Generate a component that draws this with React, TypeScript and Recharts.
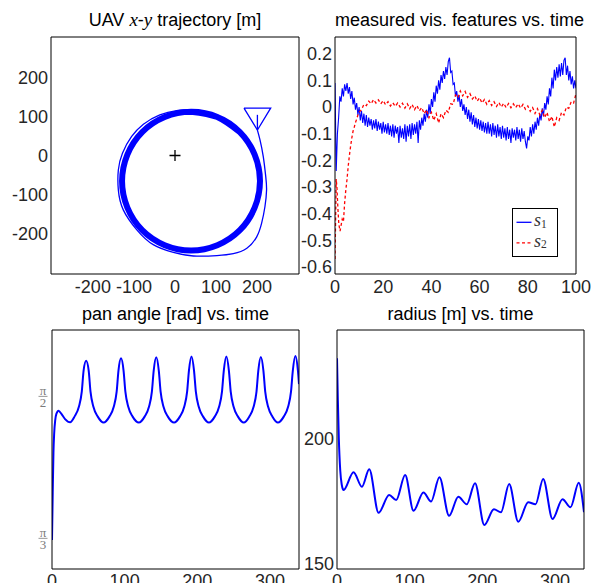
import { ComposedChart, Legend, Line, Scatter, XAxis, YAxis } from "recharts";

const BLUE = "#0000ff";
const RED = "#ff0000";
const INK = "#000000";
const LABEL = "#262626";
const SANS = "'Liberation Sans', Arial, Helvetica, sans-serif";
const SERIF = "'Liberation Serif', 'Times New Roman', serif";

// --- UAV x-y trajectory [m] ---
const XY_TICKS = [-200, -100, 0, 100, 200];
// first lap, from the UAV start point spiralling onto the orbit
const APPROACH_X = [200.7, 207, 215, 221, 223, 219, 211, 199, 175, 142, 102, 45, -4, -53, -93, -126, -138, -138, -128, -106, -77, -37, 4, 39];
const APPROACH_Y = [65, 40, -3, -54, -88, -131, -173, -208, -237, -251, -256, -257, -248, -228, -190, -139, -88, -37, 6, 48, 80, 104, 115, 117];
// the settled orbit (many laps on top of each other)
const ORBIT_X = [39, 103, 158, 194, 207, 194, 158, 103, 39, -25, -80, -116, -129, -116, -80, -25, 39, 103, 158];
const ORBIT_Y = [112, 98.5, 60, 2.5, -65.5, -133.5, -191, -229.5, -243, -229.5, -191, -133.5, -65.5, 2.5, 60, 98.5, 112, 98.5, 60];
const UAV_X = [168, 233, 200.7, 168];
const UAV_Y = [121, 121, 65, 121];
const STEM_X = [200.7, 200.7];
const STEM_Y = [104, 65];
const TARGET_X = [0];
const TARGET_Y = [0];

// --- measured visual features vs. time ---
const FEAT_X_TICKS = [0, 20, 40, 60, 80, 100];
const FEAT_Y_TICKS = [-0.6, -0.5, -0.4, -0.3, -0.2, -0.1, 0, 0.1, 0.2];
const S1_DT = 0.5; // s1 sampled every 0.5 s
const S1 = [
  0.09, -0.24, -0.1, -0.04, 0.04, 0.02, 0.07, 0.04, 0.085, 0.06, 0.09, 0.05, 0.075, 0.03, 0.06, 0.01, 0.035, -0.01, 0.015, -0.03,
  0.0, -0.05, -0.015, -0.06, -0.025, -0.07, -0.03, -0.075, -0.04, -0.07, -0.045, -0.085, -0.05, -0.08, -0.045, -0.09, -0.055, -0.085, -0.06, -0.1,
  -0.055, -0.095, -0.065, -0.1, -0.06, -0.105, -0.07, -0.11, -0.065, -0.115, -0.07, -0.1, -0.075, -0.135, -0.07, -0.115, -0.08, -0.12, -0.065, -0.13,
  -0.07, -0.11, -0.065, -0.12, -0.06, -0.105, -0.065, -0.1, -0.055, -0.135, -0.05, -0.085, -0.04, -0.07, -0.025, -0.055, -0.01, -0.04, 0.01, -0.025,
  0.03, 0.0, 0.055, 0.02, 0.08, 0.05, 0.1, 0.065, 0.12, 0.09, 0.135, 0.105, 0.15, 0.12, 0.17, 0.185, 0.13, 0.135, 0.085, 0.09,
  0.04, 0.06, 0.02, 0.045, 0.0, 0.03, -0.015, 0.01, -0.03, 0.0, -0.045, -0.01, -0.055, -0.02, -0.065, -0.03, -0.075, -0.04, -0.08, -0.045,
  -0.085, -0.05, -0.09, -0.055, -0.095, -0.06, -0.1, -0.055, -0.1, -0.065, -0.11, -0.06, -0.105, -0.07, -0.115, -0.065, -0.11, -0.075, -0.12, -0.07,
  -0.115, -0.08, -0.125, -0.075, -0.12, -0.085, -0.135, -0.08, -0.115, -0.085, -0.125, -0.075, -0.12, -0.085, -0.13, -0.08, -0.12, -0.09, -0.13, -0.155,
  -0.11, -0.125, -0.075, -0.11, -0.065, -0.1, -0.055, -0.085, -0.04, -0.07, -0.025, -0.05, -0.005, -0.035, 0.015, -0.01, 0.04, 0.01, 0.07, 0.04,
  0.11, 0.07, 0.14, 0.1, 0.15, 0.11, 0.16, 0.115, 0.165, 0.12, 0.175, 0.185, 0.12, 0.155, 0.1, 0.135, 0.085, 0.115, 0.07, 0.1,
  0.07,
];
const S2_T = [
  0, 0.3, 0.5, 0.8, 1.2, 1.6, 2.1, 2.6, 3, 3.5, 4, 4.5, 5, 5.5, 6, 6.5, 7, 7.5, 8, 8.5, 9, 9.5, 10,
  11, 12, 13, 14, 15, 16, 17, 18, 19, 20, 21, 22, 23, 24, 25, 26, 27, 28, 29, 30,
  31, 32, 33, 34, 35, 36, 37, 38, 39, 40, 41, 42, 43, 44, 45, 46, 47, 48, 49, 50,
  51, 52, 53, 54, 55, 56, 57, 58, 59, 60, 61, 62, 63, 64, 65, 66, 67, 68, 69, 70,
  71, 72, 73, 74, 75, 76, 77, 78, 79, 80, 81, 82, 83, 84, 85, 86, 87, 88, 89, 90,
  91, 92, 93, 94, 95, 96, 97, 98, 99, 100,
];
const S2 = [
  -0.57, -0.4, -0.27, -0.3, -0.38, -0.44, -0.465, -0.44, -0.42, -0.43, -0.36, -0.31, -0.27, -0.22, -0.18, -0.145, -0.115, -0.09, -0.075, -0.058, -0.045, -0.03, -0.02,
  -0.01, 0.01, 0.005, 0.022, 0.012, 0.028, 0.015, 0.027, 0.012, 0.024, 0.008, 0.02, 0.004, 0.016, 0.002, 0.015, 0.0, 0.014, -0.004, 0.012,
  -0.006, 0.01, -0.01, 0.006, -0.014, -0.002, -0.025, -0.01, -0.04, -0.02, -0.05, -0.025, -0.06, -0.025, -0.04, -0.012, -0.02, 0.012, 0.01, 0.045,
  0.035, 0.06, 0.042, 0.058, 0.036, 0.05, 0.03, 0.042, 0.022, 0.035, 0.015, 0.028, 0.01, 0.024, 0.006, 0.02, 0.002, 0.017, 0.0, 0.014,
  -0.002, 0.013, -0.003, 0.012, -0.002, 0.012, -0.004, 0.01, -0.008, 0.004, -0.016, -0.002, -0.024, -0.006, -0.03, -0.012, -0.04, -0.02, -0.055, -0.035,
  -0.075, -0.04, -0.05, -0.02, -0.03, 0.0, -0.005, 0.02, 0.015, 0.05,
];
const FEAT_SERIES = [
  { key: "s1", sub: "1", color: BLUE, dash: undefined as string | undefined },
  { key: "s2", sub: "2", color: RED, dash: "3 2.5" },
];

// --- pan angle [rad] vs. time ---
const TIME_TICKS = [0, 100, 200, 300];
const PAN_TICKS = [Math.PI / 3, Math.PI / 2];
const PAN_T = [
  0, 1, 2, 3, 4.5, 6, 9, 13, 18, 25, 31, 37, 41, 43.5, 47, 50.5, 53, 57, 63, 71,
  79, 85, 89, 91.5, 95, 98.5, 101, 105, 111, 119.5, 127.5, 133.5, 137.5, 140, 143.5, 147, 149.5, 153.5, 159.5, 168,
  176, 182, 186, 188.5, 192, 195.5, 198, 202, 208, 216, 224, 230, 234, 236.5, 240, 243.5, 246, 250, 256, 264,
  271.5, 277.5, 281.5, 284, 287.5, 291, 293.5, 297.5, 303.5, 311, 319, 325, 329, 331.5, 335, 338.5, 340,
];
const PAN = [
  1.047, 1.22, 1.37, 1.44, 1.49, 1.512, 1.524, 1.512, 1.493, 1.481, 1.502, 1.538, 1.594, 1.672, 1.708, 1.672, 1.594, 1.538, 1.502, 1.48,
  1.502, 1.538, 1.594, 1.672, 1.717, 1.672, 1.594, 1.538, 1.502, 1.48, 1.502, 1.538, 1.594, 1.672, 1.721, 1.672, 1.594, 1.538, 1.502, 1.48,
  1.502, 1.538, 1.594, 1.672, 1.724, 1.672, 1.594, 1.538, 1.502, 1.48, 1.502, 1.538, 1.594, 1.672, 1.724, 1.672, 1.594, 1.538, 1.502, 1.48,
  1.502, 1.538, 1.594, 1.672, 1.722, 1.672, 1.594, 1.538, 1.502, 1.48, 1.502, 1.538, 1.594, 1.672, 1.726, 1.672, 1.622,
];

// --- radius [m] vs. time ---
const RAD_TICKS = [150, 200];
const RAD_T = [
  0, 1.2, 2.5, 4.5, 6.5, 9, 22.8, 34.3, 44.4, 57.2, 71.8, 81.5, 93.8, 105.3, 119, 129.5, 141, 154.3, 167, 178.6,
  190, 202.8, 216, 225.7, 237, 249.5, 263.2, 273.3, 283.8, 296.7, 310.4, 321.4, 332.8, 340,
];
const RAD = [
  232, 215, 200, 187, 181.5, 179.3, 186.4, 180.6, 187.6, 170.2, 177.3, 175.3, 185.3, 171, 178.3, 174.7, 184.4, 169, 176.6, 173.6,
  182, 165.3, 171.6, 170.4, 181.7, 166.6, 174.4, 173.6, 183.7, 167.7, 175.6, 172.4, 182.2, 170.4,
];

const toPts = (xs: number[], ys: number[]) => xs.map((x, i) => ({ x, y: ys[i] }));

type FrameOpts = {
  xd: [number, number];
  xt: number[];
  yd: [number, number];
  yt: number[];
  xh: number;
  xm: number;
  yw: number;
  ym: number;
  yTick?: any;
  yFmt?: (v: number) => string;
};

// box with labelled bottom/left axes and inward ticks on all four sides
function frame(f: FrameOpts) {
  const lbl = { fill: LABEL, fontSize: 18, fontFamily: SANS };
  const inward = { tick: false, tickSize: 3, tickLine: { stroke: INK }, mirror: true, allowDataOverflow: true, interval: 0 as const };
  return [
    <XAxis key="xb" xAxisId="b" type="number" dataKey="x" domain={f.xd} ticks={f.xt} allowDataOverflow interval={0}
      height={f.xh} tickSize={0} tickMargin={f.xm} tickLine={false} axisLine={{ stroke: INK }} tick={lbl} />,
    <XAxis key="xbm" xAxisId="bm" type="number" orientation="bottom" domain={f.xd} ticks={f.xt} {...inward} axisLine={false} />,
    <XAxis key="xt" xAxisId="t" type="number" orientation="top" domain={f.xd} ticks={f.xt} {...inward} axisLine={{ stroke: INK }} />,
    <YAxis key="yl" yAxisId="l" type="number" dataKey="y" domain={f.yd} ticks={f.yt} allowDataOverflow interval={0}
      width={f.yw} tickSize={0} tickMargin={f.ym} tickLine={false} axisLine={{ stroke: INK }} tick={f.yTick ?? lbl} tickFormatter={f.yFmt} />,
    <YAxis key="ylm" yAxisId="lm" type="number" orientation="left" domain={f.yd} ticks={f.yt} {...inward} axisLine={false} />,
    <YAxis key="yr" yAxisId="r" type="number" orientation="right" domain={f.yd} ticks={f.yt} {...inward} axisLine={{ stroke: INK }} />,
  ];
}

const lineBase = { xAxisId: "b", yAxisId: "l", dataKey: "y", dot: false, activeDot: false, isAnimationActive: false };

function Plus(p: any) {
  const { cx, cy } = p;
  return <path d={`M${cx - 5.5},${cy}H${cx + 5.5}M${cx},${cy - 5.5}V${cy + 5.5}`} stroke={INK} strokeWidth={1.3} fill="none" />;
}

function PiTick(p: any) {
  const { x, y, payload } = p;
  const den = Math.round(Math.PI / payload.value);
  const cx = x - 6;
  return (
    <g fontFamily={SERIF} fontSize={13} fill="#7a7a7a">
      <text x={cx} y={y - 3.2} textAnchor="middle">π</text>
      <line x1={cx - 4.5} x2={cx + 4.5} y1={y - 1.6} y2={y - 1.6} stroke="#7a7a7a" strokeWidth={0.8} />
      <text x={cx} y={y + 8.9} textAnchor="middle">{den}</text>
    </g>
  );
}

function FeatLegend() {
  return (
    <svg width={46} height={49} style={{ display: "block" }}>
      <rect x={0.5} y={0.5} width={45} height={48} fill="#fff" stroke={INK} />
      {FEAT_SERIES.map((s, i) => (
        <g key={s.key}>
          <line x1={4.5} x2={19.5} y1={14.3 + i * 20.5} y2={14.3 + i * 20.5} stroke={s.color} strokeWidth={1.3} strokeDasharray={s.dash} />
          <text x={22} y={18 + i * 20.7} fontFamily={SERIF} fontStyle="italic" fontSize={18} fill="#333">
            s<tspan fontStyle="normal" fontSize={11.5} dy={1.6}>{s.sub}</tspan>
          </text>
        </g>
      ))}
    </svg>
  );
}

function Title({ left, width, top, children }: { left: number; width: number; top: number; children: any }) {
  return (
    <div style={{ position: "absolute", left, width, top, textAlign: "center", fontFamily: SANS, fontSize: 18, lineHeight: "18px", color: INK, whiteSpace: "nowrap" }}>
      {children}
    </div>
  );
}

const MathVar = ({ v }: { v: string }) => <span style={{ fontFamily: SERIF, fontStyle: "italic", fontSize: 19 }}>{v}</span>;

function Trajectory() {
  return (
    <ComposedChart width={305} height={269} margin={{ top: 10, right: 6, bottom: 0, left: 0 }}>
      {frame({ xd: [-302, 302], xt: XY_TICKS, yd: [-303, 303], yt: XY_TICKS, xh: 22, xm: 6, yw: 51, ym: 3 })}
      <Line {...lineBase} data={toPts(ORBIT_X, ORBIT_Y)} type="natural" stroke={BLUE} strokeWidth={6} />
      <Line {...lineBase} data={toPts(APPROACH_X, APPROACH_Y)} type="natural" stroke={BLUE} strokeWidth={1.3} />
      <Line {...lineBase} data={toPts(UAV_X, UAV_Y)} type="linear" stroke={BLUE} strokeWidth={1.3} />
      <Line {...lineBase} data={toPts(STEM_X, STEM_Y)} type="linear" stroke={BLUE} strokeWidth={1.3} />
      <Scatter xAxisId="b" yAxisId="l" dataKey="y" data={toPts(TARGET_X, TARGET_Y)} shape={Plus} isAnimationActive={false} />
    </ComposedChart>
  );
}

function Features() {
  const s1 = S1.map((v, i) => ({ x: i * S1_DT, y: v }));
  return (
    <ComposedChart width={309} height={269} margin={{ top: 10, right: 18, bottom: 0, left: 0 }}>
      {frame({
        xd: [0, 100], xt: FEAT_X_TICKS, yd: [-0.626, 0.2625], yt: FEAT_Y_TICKS, xh: 22, xm: 6, yw: 50, ym: 3,
        yFmt: (v) => (v === 0 ? "0" : v.toFixed(1)),
      })}
      <Line {...lineBase} data={s1} type="linear" stroke={BLUE} strokeWidth={1.1} name="s1" />
      <Line {...lineBase} data={toPts(S2_T, S2)} type="linear" stroke={RED} strokeWidth={1.3} strokeDasharray="3 2.5" name="s2" />
      <Legend layout="vertical" align="center" verticalAlign="middle" width={46} height={49}
        wrapperStyle={{ left: 227, top: 181, width: 46, height: 49 }} content={() => <FeatLegend />} />
    </ComposedChart>
  );
}

function PanAngle() {
  return (
    <ComposedChart width={303} height={279} margin={{ top: 10, right: 6, bottom: 0, left: 0 }}>
      {frame({ xd: [0, 340], xt: TIME_TICKS, yd: [0.94, 1.8215], yt: PAN_TICKS, xh: 30, xm: 5, yw: 50, ym: 3, yTick: PiTick })}
      <Line {...lineBase} data={toPts(PAN_T, PAN)} type="monotone" stroke={BLUE} strokeWidth={2} />
    </ComposedChart>
  );
}

function Radius() {
  return (
    <ComposedChart width={303} height={279} margin={{ top: 10, right: 6, bottom: 0, left: 0 }}>
      {frame({ xd: [0, 340], xt: TIME_TICKS, yd: [147.7, 243.3], yt: RAD_TICKS, xh: 30, xm: 5, yw: 50, ym: 3 })}
      <Line {...lineBase} data={toPts(RAD_T, RAD)} type="monotone" stroke={BLUE} strokeWidth={2} />
    </ComposedChart>
  );
}

export default function App() {
  const at = (left: number, top: number) => ({ position: "absolute" as const, left, top });
  return (
    <div style={{ position: "absolute", left: 0, top: 0, width: 594, height: 583, overflow: "hidden", background: "#fff" }}>
      <Title left={51} width={248} top={10.8}>
        UAV <MathVar v="x" />-<MathVar v="y" /> trajectory [m]
      </Title>
      <Title left={335} width={241} top={10.8}>measured vis. features vs. time</Title>
      <Title left={52} width={247} top={304.8}>pan angle [rad] vs. time</Title>
      <Title left={337} width={247} top={304.8}>radius [m] vs. time</Title>
      <div style={at(0, 27)}><Trajectory /></div>
      <div style={at(285, 27)}><Features /></div>
      <div style={at(2, 320)}><PanAngle /></div>
      <div style={at(287, 320)}><Radius /></div>
    </div>
  );
}
